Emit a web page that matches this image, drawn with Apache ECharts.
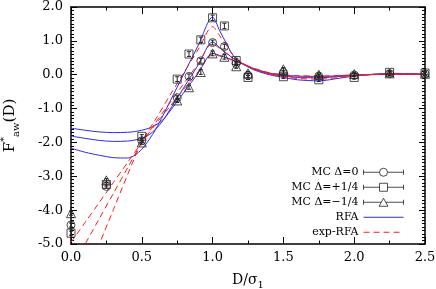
<!DOCTYPE html>
<html>
<head>
<meta charset="utf-8">
<script src="https://cdn.jsdelivr.net/npm/echarts@6/dist/echarts.min.js"></script>
<style>html,body{margin:0;padding:0;background:#fff}#c{width:436px;height:289px}</style>
</head>
<body>
<div id="c"></div>
<script>
// ---- data ----
const rfaD = [0,0.1,0.2,0.3,0.4,0.45,0.5,0.55,0.6,0.65,0.7,0.8,0.9,1.0,1.05,1.1,1.15,1.2,1.25,1.3,1.4,1.5,1.6,1.75,1.9,2.0,2.25,2.5];
const rfaPlus  = [-2.17,-2.29,-2.38,-2.45,-2.46,-2.38,-2.2,-1.93,-1.6,-1.2,-0.78,0.05,0.88,1.70,1.3,0.9,0.54,0.36,0.23,0.13,0.0,-0.08,-0.15,-0.18,-0.1,-0.04,0.04,0.02];
const rfaZero  = [-1.81,-1.88,-1.94,-1.97,-1.96,-1.93,-1.88,-1.78,-1.6,-1.35,-1.02,-0.36,0.3,0.97,0.8,0.63,0.47,0.35,0.24,0.15,0.03,-0.04,-0.08,-0.09,-0.05,-0.02,0.02,0.01];
const rfaMinus = [-1.58,-1.64,-1.69,-1.71,-1.7,-1.68,-1.64,-1.58,-1.48,-1.33,-1.07,-0.51,0.06,0.63,0.57,0.5,0.42,0.34,0.25,0.17,0.05,-0.01,-0.04,-0.05,-0.03,-0.01,0.01,0.01];

const expD = [0,0.1,0.2,0.3,0.4,0.5,0.6,0.7,0.8,0.9,1.0,1.05,1.1,1.15,1.2,1.25,1.3,1.4,1.5,1.6,1.75,1.9,2.0,2.25,2.5];
const expPlus  = [-7.05,-6.03,-5.0,-3.98,-2.95,-1.98,-1.3,-0.6,0.08,0.76,1.42,1.15,0.85,0.55,0.38,0.25,0.15,0.02,-0.06,-0.11,-0.13,-0.08,-0.03,0.03,0.02];
const expZero  = [-5.75,-5.0,-4.25,-3.5,-2.75,-2.0,-1.4,-0.82,-0.24,0.34,0.92,0.77,0.62,0.47,0.35,0.25,0.16,0.04,-0.03,-0.07,-0.08,-0.04,-0.02,0.02,0.01];
const expMinus = [-4.95,-4.36,-3.77,-3.18,-2.59,-2.0,-1.45,-0.93,-0.41,0.1,0.6,0.55,0.49,0.42,0.34,0.26,0.18,0.06,0.0,-0.03,-0.04,-0.02,-0.01,0.01,0.01];

const mcD = [0,0.25,0.5,0.75,0.8333,0.9167,1.0,1.0833,1.1667,1.25,1.5,1.75,2.0,2.25,2.5];
const mcZero  = [-4.44,-3.3,-1.95,-0.68,-0.05,0.41,0.95,0.83,0.33,-0.02,0.07,-0.04,-0.01,0.03,0.03];
const mcPlus  = [-4.68,-3.24,-1.82,-0.13,0.61,1.03,1.68,1.44,0.42,-0.08,-0.06,-0.15,-0.08,0.07,0.05];
const mcMinus = [-4.09,-3.12,-2.0,-0.76,-0.37,0.08,0.63,0.53,0.25,0.04,0.16,0.0,0.02,0.04,0.03];
const errZero  = [0.06,0.05,0.05,0.06,0.07,0.07,0.07,0.07,0.06,0.06,0.05,0.05,0.05,0.05,0.05];
const errPlus  = [0.06,0.05,0.05,0.07,0.07,0.08,0.08,0.08,0.07,0.06,0.05,0.05,0.05,0.05,0.05];
const errMinus = [0.06,0.05,0.05,0.06,0.06,0.07,0.07,0.07,0.06,0.06,0.05,0.05,0.05,0.05,0.05];

const xTicks = [0, 0.5, 1.0, 1.5, 2.0, 2.5];
const yTicks = [-5, -4, -3, -2, -1, 0, 1, 2];

const legendNames = ['MC Δ=0', 'MC Δ=+1/4', 'MC Δ=−1/4', 'RFA', 'exp-RFA'];
// ---------------------------------------

const FONT = 'DejaVu Serif';
const pairs = (xs, ys) => xs.map((x, i) => [x, ys[i]]);
const triples = (xs, ys, es) => xs.map((x, i) => [x, ys[i], es[i]]);

const BLUE = '#2a2af2';
const RED = '#ff1a1a';

function lineSeries(name, xs, ys, color, dashed) {
  return {
    type: 'line', name, data: pairs(xs, ys), xAxisIndex: 0, yAxisIndex: 0,
    symbol: 'none', showSymbol: false, smooth: 0.3, clip: true,
    lineStyle: { color, width: 1, type: dashed ? [6, 4] : 'solid' },
    itemStyle: { color }, z: 3
  };
}
function mcSeries(name, ys, symbol, size) {
  return {
    type: 'scatter', name, data: pairs(mcD, ys), symbol, symbolSize: size,
    itemStyle: { color: 'rgba(0,0,0,0)', borderColor: '#222', borderWidth: 1 }, z: 4
  };
}
function errSeries(ys, es) {
  return {
    type: 'custom', data: triples(mcD, ys, es), z: 5, silent: true,
    renderItem: (params, api) => {
      const x = api.value(0), y = api.value(1), e = api.value(2);
      const t = api.coord([x, y + e]), b = api.coord([x, y - e]);
      const hw = 2, st = { stroke: '#222', lineWidth: 1 };
      return { type: 'group', children: [
        { type: 'line', shape: { x1: t[0], y1: t[1], x2: b[0], y2: b[1] }, style: st },
        { type: 'line', shape: { x1: t[0] - hw, y1: t[1], x2: t[0] + hw, y2: t[1] }, style: st },
        { type: 'line', shape: { x1: b[0] - hw, y1: b[1], x2: b[0] + hw, y2: b[1] }, style: st }
      ]};
    }
  };
}

const bar = 'M0,4 L16,4 M24,4 L40,4 M0,1.5 L0,6.5 M40,1.5 L40,6.5 ';
const iconCircle = 'path://' + bar + 'M24,4 A4,4 0 1 1 16,4 A4,4 0 1 1 24,4 Z';
const iconSquare = 'path://' + bar + 'M16,0 L24,0 L24,8 L16,8 Z';
const iconTri = 'path://M0,4 L17.8,4 M22.2,4 L40,4 M0,1.5 L0,6.5 M40,1.5 L40,6.5 M20,0 L24.5,8 L15.5,8 Z';
const iconStyle = { color: 'rgba(0,0,0,0)', borderColor: '#222', borderWidth: 1 };
const hiddenSym = { color: 'rgba(0,0,0,0)', borderColor: 'rgba(0,0,0,0)', borderWidth: 0, opacity: 0 };

function xAxisDef(pos, labels) {
  return {
    type: 'value', position: pos, min: 0, max: 2.5, interval: 0.5,
    axisLine: { onZero: false, lineStyle: { color: '#000', width: 1.5 } },
    axisTick: { inside: true, length: 7, lineStyle: { color: '#000', width: 1 } },
    minorTick: { show: true, splitNumber: 2, length: 3.5, lineStyle: { color: '#000', width: 1 } },
    splitLine: { show: false }, minorSplitLine: { show: false },
    axisLabel: { show: labels, fontFamily: FONT, fontSize: 13, color: '#000', margin: 7,
      formatter: v => xTicks.includes(v) ? v.toFixed(1) : '' },
    name: labels ? '{f|D/σ}{sub|1}' : '', nameLocation: 'middle', nameGap: 26,
    nameTextStyle: { fontFamily: FONT, color: '#000', rich: {
      f: { fontFamily: FONT, fontSize: 14, color: '#000', lineHeight: 20 },
      sub: { fontFamily: FONT, fontSize: 10, color: '#000', verticalAlign: 'bottom', lineHeight: 20 }
    } }
  };
}
function yAxisDef(pos, labels) {
  return {
    type: 'value', position: pos, min: -5, max: 2, interval: 1,
    axisLine: { onZero: false, lineStyle: { color: '#000', width: 1.5 } },
    axisTick: { inside: true, length: 6, lineStyle: { color: '#000', width: 1 } },
    minorTick: { show: true, splitNumber: 10, length: 3, lineStyle: { color: '#000', width: 1 } },
    splitLine: { show: false }, minorSplitLine: { show: false },
    axisLabel: { show: labels, fontFamily: FONT, fontSize: 13, color: '#000', margin: 8,
      formatter: v => yTicks.includes(v) ? v.toFixed(1) : '' },
    name: labels ? '{f|F}{sup|*}{sub|aw}{f|(D)}' : '', nameLocation: 'middle', nameGap: 50, nameRotate: 90,
    nameTextStyle: { fontFamily: FONT, color: '#000', rich: {
      f: { fontFamily: FONT, fontSize: 15, color: '#000', lineHeight: 22 },
      sup: { fontFamily: FONT, fontSize: 10, color: '#000', verticalAlign: 'top', lineHeight: 22 },
      sub: { fontFamily: FONT, fontSize: 10, color: '#000', verticalAlign: 'bottom', lineHeight: 22 }
    } }
  };
}

const chart = echarts.init(document.getElementById('c'), null, { renderer: 'canvas' });
chart.setOption({
  backgroundColor: '#fff',
  animation: false,
  grid: { left: 71, right: 11, top: 7, bottom: 45, containLabel: false, outerBoundsMode: 'none' },
  xAxis: [xAxisDef('bottom', true), xAxisDef('top', false)],
  yAxis: [yAxisDef('left', true), yAxisDef('right', false)],
  legend: {
    orient: 'vertical', right: 27, top: 160, align: 'right',
    itemWidth: 40, itemHeight: 8, itemGap: 0.5,
    textStyle: { fontFamily: FONT, fontSize: 11, color: '#000', lineHeight: 14.5 },
    data: [
      { name: legendNames[0], icon: iconCircle, itemStyle: iconStyle },
      { name: legendNames[1], icon: iconSquare, itemStyle: iconStyle },
      { name: legendNames[2], icon: iconTri, itemStyle: iconStyle },
      { name: legendNames[3], itemStyle: hiddenSym, lineStyle: { width: 1, color: BLUE } },
      { name: legendNames[4], itemStyle: hiddenSym, lineStyle: { width: 1, color: RED, type: [6, 4] } }
    ],
    selectedMode: false
  },
  series: [
    lineSeries(legendNames[3], rfaD, rfaPlus, BLUE, false),
    lineSeries(legendNames[3], rfaD, rfaZero, BLUE, false),
    lineSeries(legendNames[3], rfaD, rfaMinus, BLUE, false),
    lineSeries(legendNames[4], expD, expPlus, RED, true),
    lineSeries(legendNames[4], expD, expZero, RED, true),
    lineSeries(legendNames[4], expD, expMinus, RED, true),
    mcSeries(legendNames[0], mcZero, 'circle', 8),
    mcSeries(legendNames[1], mcPlus, 'rect', 8),
    mcSeries(legendNames[2], mcMinus, 'triangle', 9),
    errSeries(mcZero, errZero),
    errSeries(mcPlus, errPlus),
    errSeries(mcMinus, errMinus)
  ]
});
</script>
</body>
</html>
